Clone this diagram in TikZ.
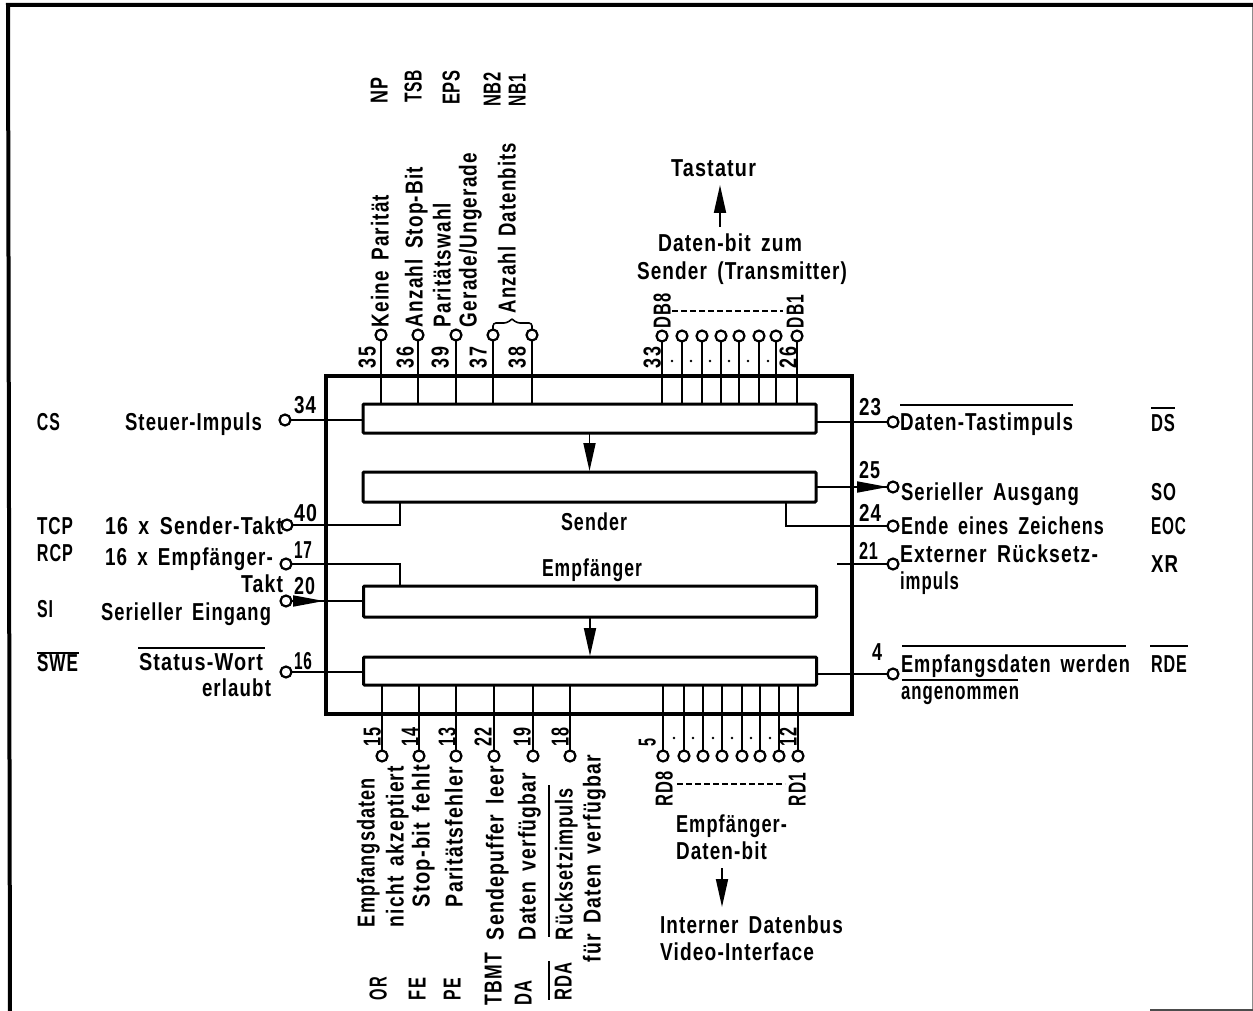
\documentclass[tikz,border=0pt]{standalone}
\usepackage{fontspec}
\setmainfont{Liberation Sans}[BoldFont=*,UprightFont=* Bold,LetterSpace=6,WordSpace=1.6]
\usetikzlibrary{arrows.meta}
\newsavebox{\fitsave}
% horizontally scale text to a target width so that it covers the measured span
\newcommand{\fitw}[2]{\sbox{\fitsave}{#2}\pgfmathsetmacro{\fitscale}{#1/\the\wd\fitsave}\scalebox{\fitscale}[1]{\usebox{\fitsave}}}
% horizontal label: x0, x1, y-centre of capitals, text
\newcommand{\hl}[4]{\pgfmathsetmacro{\hlw}{#2-#1}\node[lab,anchor=base west] (h#1n#3) at (#1,#3+8.5) {\fitw{\hlw}{#4}};}
% vertical label: x-centre of capitals, y-bottom, y-top, text
\newcommand{\vl}[4]{\pgfmathsetmacro{\hlw}{#2-#3}\node[lab,anchor=base west,rotate=90] (v#1n#2) at (#1+8.5,#2) {\fitw{\hlw}{#4}};}
\tikzset{
  lab/.style={inner sep=0pt,outer sep=0pt,font=\fontsize{24.5}{26}\selectfont},
  pin/.style={circle,draw,line width=2.2pt,fill=white,minimum size=11pt,inner sep=0pt,outer sep=0pt},
  block/.style={rectangle,draw,line width=3pt,minimum width=453pt,inner sep=0pt,outer sep=0pt,rounded corners=1pt},
  sig/.style={line width=1.8pt},
  head/.style={line width=1.8pt,-{Triangle[length=28pt,width=12pt]}},
  over/.style={line width=1.6pt},
  dots/.style={line width=1.8pt,dash pattern=on 6pt off 3pt}
}
\begin{document}
\begin{tikzpicture}[x=1pt,y=-1pt]
\useasboundingbox (0,0) rectangle (1253,1011);
\fill[white] (0,0) rectangle (1253,1011);
% sheet frame
\draw[line width=4pt] (10,1011) -- (8,5) -- (1253,5);
\draw[line width=1pt,black!45] (1252,7) -- (1252,1011);
\draw[line width=2pt,black!70] (1150,1010) -- (1253,1010);
% chip outline
\draw[line width=4pt] (326,376) rectangle (852,714);
% blocks
\node[block,minimum height=29pt] (b1) at (589.5,418.5) {};
\node[block,minimum height=30pt] (b2) at (589.5,487) {};
\node[block,minimum height=31pt] (b3) at (590,601.5) {};
\node[block,minimum height=28pt] (b4) at (590,671) {};
% internal arrows
\coordinate (a1) at (589.5,433); \coordinate (a2) at (589.5,471);
\coordinate (a3) at (590,617); \coordinate (a4) at (590,656);
\draw[head] (a1) -- (a2);
\draw[head] (a3) -- (a4);
% top pins
\foreach \n/\x in {t35/381,t36/418,t39/456,t37/493,t38/532}{
  \node[pin] (\n) at (\x,335) {};
  \draw[sig] (\n) -- (\n |- b1.north);
}
\foreach \n/\x in {d1/662,d2/682,d3/702,d4/721,d5/739,d6/759,d7/776,d8/797}{
  \node[pin] (\n) at (\x,336) {};
  \draw[sig] (\n) -- (\n |- b1.north);
}
\foreach \x in {672,691,710,729,748,768}{\fill (\x,361) circle (1.4pt);}
% brace
\draw[line width=1.6pt,rounded corners=3pt] (t37.north) -- (493,323) -- (507,323) -- (512,319);
\draw[line width=1.6pt,rounded corners=3pt] (t38.north) -- (532,323) -- (517,323) -- (512,319);
% bottom pins
\foreach \n/\x in {u15/382,u14/419,u13/456,u22/494,u19/533,u18/570}{
  \node[pin] (\n) at (\x,756) {};
  \draw[sig] (\n) -- (\n |- b4.south);
}
\foreach \n/\x in {r1/663,r2/684,r3/703,r4/722,r5/742,r6/760,r7/779,r8/798}{
  \node[pin] (\n) at (\x,756) {};
  \draw[sig] (\n) -- (\n |- b4.south);
}
\foreach \x in {674,693,713,732,751,770}{\fill (\x,738) circle (1.4pt);}
% left pins
\node[pin] (l34) at (285,420) {};
\node[pin] (l40) at (287,525) {};
\node[pin] (l17) at (286,564) {};
\node[pin] (l20) at (286,601) {};
\node[pin] (l16) at (286,672) {};
\draw[sig] (l34) -- (l34 -| b1.west);
\draw[sig] (l40) -- (400,525) -- (400,502);
\draw[sig] (l17) -- (400,564) -- (400,586);
\draw[sig] (l20) -- (l20 -| b3.west);
\coordinate (t20) at (324,601);
\draw[line width=1.8pt,-{Triangle[length=31pt,width=11pt]}] (l20) -- (t20);
\draw[sig] (l16) -- (l16 -| b4.west);
% right pins
\node[pin] (r23) at (893,422) {};
\node[pin] (r25) at (893,487) {};
\node[pin] (r24) at (893,526) {};
\node[pin] (r21) at (893,564) {};
\node[pin] (r4p) at (893,674) {};
\draw[sig] (b1.east |- r23) -- (r23);
\draw[sig] (b2.east |- r25) -- (r25);
\coordinate (h25) at (888,487);
\draw[line width=1.8pt,-{Triangle[length=31pt,width=11pt]}] (b2.east |- r25) -- (h25);
\draw[sig] (786,502) -- (786,526) -- (r24);
\coordinate (s21) at (837,564);
\draw[sig] (s21) -- (r21);
\draw[sig] (b4.east |- r4p) -- (r4p);
% outside arrows
\coordinate (k1) at (720,227); \coordinate (k2) at (720,185);
\draw[head] (k1) -- (k2);
\coordinate (v1) at (722,868); \coordinate (v2) at (722,907);
\draw[head] (v1) -- (v2);
% dashed ranges
\coordinate (db8) at (672,311); \coordinate (db1) at (783,311);
\draw[dots] (db8) -- (db1);
\coordinate (rd8) at (677,784); \coordinate (rd1) at (785,784);
\draw[dots] (rd8) -- (rd1);
% top rotated text
\vl{379}{104}{78}{NP}
\vl{413}{103}{70}{TSB}
\vl{451}{105}{70}{EPS}
\vl{492}{107}{72}{NB2}
\vl{517}{107}{74}{NB1}
\vl{380}{327}{195}{Keine Parität}
\vl{414}{327}{167}{Anzahl Stop-Bit}
\vl{442}{327}{203}{Paritätswahl}
\vl{468}{327}{153}{Gerade/Ungerade}
\vl{507}{313}{143}{Anzahl Datenbits}
\vl{662}{328}{293}{DB8}
\vl{795}{328}{295}{DB1}
\vl{367}{368}{347}{35}
\vl{405}{368}{347}{36}
\vl{440}{368}{347}{39}
\vl{478}{368}{347}{37}
\vl{517}{368}{347}{38}
\vl{652}{368}{347}{33}
\vl{788}{368}{347}{26}
% top horizontal text
\hl{671}{756}{168}{Tastatur}
\hl{658}{802}{243}{Daten-bit zum}
\hl{637}{847}{271}{Sender (Transmitter)}
% centre
\hl{561}{627}{522}{Sender}
\hl{542}{642}{568}{Empfänger}
% left
\hl{37}{60}{422}{CS}
\hl{125}{262}{422}{Steuer-Impuls}
\hl{294}{316}{405}{34}
\hl{37}{73}{526}{TCP}
\hl{105}{283}{526}{16 x Sender-Takt}
\hl{294}{317}{513}{40}
\hl{37}{73}{553}{RCP}
\hl{105}{273}{557}{16 x Empfänger-}
\hl{294}{312}{550}{17}
\hl{241}{283}{584}{Takt}
\hl{294}{315}{586}{20}
\hl{37}{53}{609}{SI}
\hl{101}{271}{612}{Serieller Eingang}
\hl{37}{78}{663}{SWE}
\draw[over] (37,653) -- (79,653);
\hl{139}{263}{662}{Status-Wort}
\draw[over] (138,648) -- (265,648);
\hl{202}{271}{688}{erlaubt}
\hl{294}{312}{661}{16}
% right
\hl{859}{881}{407}{23}
\hl{900}{1073}{422}{Daten-Tastimpuls}
\draw[over] (900,405) -- (1073,405);
\hl{1151}{1175}{423}{DS}
\draw[over] (1151,408) -- (1175,408);
\hl{859}{880}{470}{25}
\hl{901}{1079}{492}{Serieller Ausgang}
\hl{1151}{1176}{492}{SO}
\hl{859}{881}{513}{24}
\hl{901}{1104}{526}{Ende eines Zeichens}
\hl{1151}{1186}{526}{EOC}
\hl{859}{878}{551}{21}
\hl{900}{1098}{554}{Externer Rücksetz-}
\hl{900}{959}{581}{impuls}
\hl{1151}{1178}{564}{XR}
\hl{872}{882}{652}{4}
\hl{901}{1130}{664}{Empfangsdaten werden}
\draw[over] (902,646) -- (1126,646);
\hl{901}{1019}{691}{angenommen}
\draw[over] (902,680) -- (1018,680);
\hl{1151}{1187}{664}{RDE}
\draw[over] (1150,646) -- (1188,646);
% bottom rotated text
\vl{372}{746}{727}{15}
\vl{410}{746}{727}{14}
\vl{447}{746}{727}{13}
\vl{483}{746}{727}{22}
\vl{522}{746}{727}{19}
\vl{560}{746}{727}{18}
\vl{647}{746}{738}{5}
\vl{788}{746}{727}{12}
\vl{366}{927}{778}{Empfangsdaten}
\vl{395}{927}{766}{nicht akzeptiert}
\vl{421}{907}{765}{Stop-bit fehlt}
\vl{454}{907}{767}{Paritätsfehler}
\vl{495}{940}{766}{Sendepuffer leer}
\vl{527}{940}{773}{Daten verfügbar}
\vl{564}{940}{788}{Rücksetzimpuls}
\draw[over] (549,785) -- (549,937);
\vl{592}{962}{755}{für Daten verfügbar}
\vl{378}{1000}{977}{OR}
\vl{417}{1000}{978}{FE}
\vl{452}{1000}{978}{PE}
\vl{493}{1005}{953}{TBMT}
\vl{523}{1005}{980}{DA}
\vl{563}{1000}{962}{RDA}
\draw[over] (549,961) -- (549,1000);
\vl{664}{806}{771}{RD8}
\vl{797}{806}{773}{RD1}
% bottom horizontal text
\hl{676}{787}{824}{Empfänger-}
\hl{676}{767}{851}{Daten-bit}
\hl{660}{843}{925}{Interner Datenbus}
\hl{660}{814}{952}{Video-Interface}
\end{tikzpicture}
\end{document}
